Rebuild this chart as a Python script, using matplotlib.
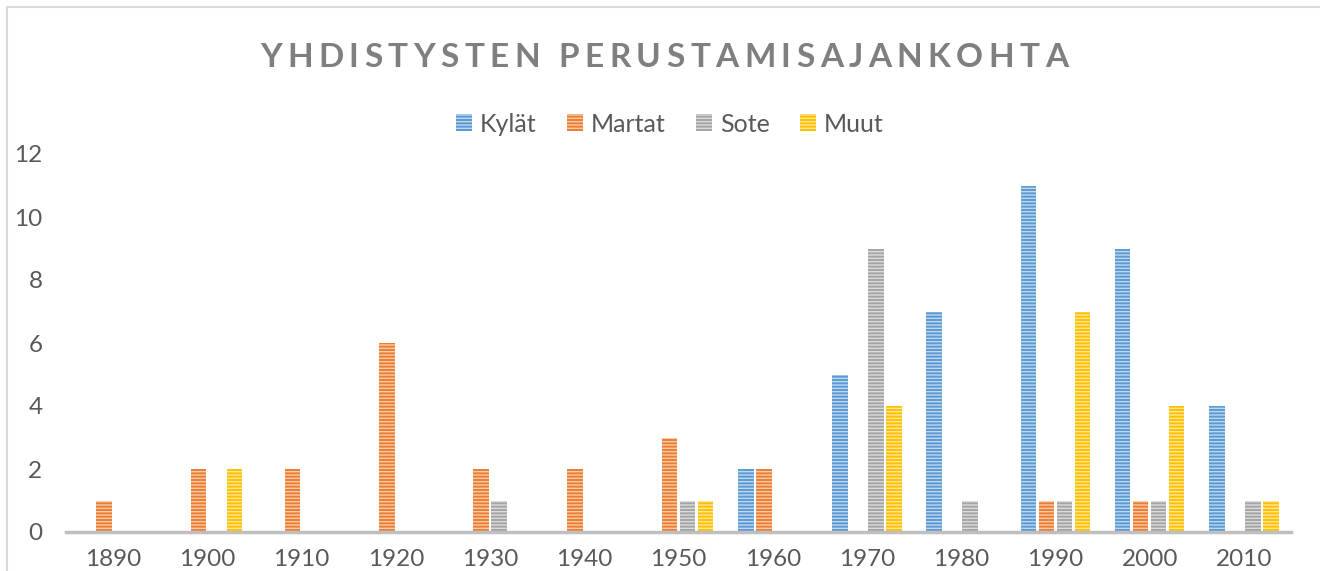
import matplotlib
matplotlib.use("Agg")
import matplotlib.pyplot as plt
from matplotlib.patches import Patch
from matplotlib.lines import Line2D
import numpy as np

decades = ["1890", "1900", "1910", "1920", "1930", "1940", "1950",
           "1960", "1970", "1980", "1990", "2000", "2010"]
kylat = [0, 0, 0, 0, 0, 0, 0, 2, 5, 7, 11, 9, 4]
martat = [1, 2, 2, 6, 2, 2, 3, 2, 0, 0, 1, 1, 0]
sote = [0, 0, 0, 0, 1, 0, 1, 0, 9, 1, 1, 1, 1]
muut = [0, 2, 0, 0, 0, 0, 1, 0, 4, 0, 7, 4, 1]
series_names = ["Kylät", "Martat", "Sote", "Muut"]
colors = ["#5B9BD5", "#ED7D31", "#A5A5A5", "#FFC000"]
title = "YHDISTYSTEN PERUSTAMISAJANKOHTA"

plt.rcParams["font.family"] = ["Lato", "DejaVu Sans"]
plt.rcParams["hatch.linewidth"] = 1.0

W, H = 1320, 571
fig = plt.figure(figsize=(W / 100, H / 100), dpi=100)
ax = fig.add_axes([66 / W, 1 - 532 / H, (1291 - 66) / W, (532 - 154) / H])


def lighten(c, f):
    rgb = np.array(matplotlib.colors.to_rgb(c))
    return tuple(rgb + (1 - rgb) * f)


x = np.arange(len(decades))
step = 0.191
width = 0.165
for k, (vals, col) in enumerate(zip([kylat, martat, sote, muut], colors)):
    ax.bar(x + (k - 1.5) * step, vals, width, color=col,
           edgecolor=lighten(col, 0.6), linewidth=0, hatch="-----")

ax.set_xlim(-0.5, len(decades) - 0.5)
ax.set_ylim(0, 12)
ax.set_yticks(range(0, 13, 2))
ax.set_xticks(x)
ax.set_xticklabels(decades)
ax.tick_params(axis="both", length=0, labelsize=17.5, labelcolor="#595959")
ax.tick_params(axis="x", pad=12)
ax.tick_params(axis="y", pad=17)
for s in ["top", "right", "left"]:
    ax.spines[s].set_visible(False)
ax.spines["bottom"].set_color("#BFBFBF")
ax.spines["bottom"].set_linewidth(2.5)

# legend
handles = [Patch(facecolor=c, edgecolor=lighten(c, 0.6), linewidth=0, hatch="-----")
           for c in colors]
fig.legend(handles, series_names, loc="center", ncol=4, frameon=False,
           bbox_to_anchor=(670 / W, 1 - 124 / H), fontsize=18,
           labelcolor="#595959", handlelength=0.65, handleheight=0.65,
           handletextpad=0.32, columnspacing=1.2)

# letter-spaced title
r = fig.canvas.get_renderer()
kw = dict(fontsize=24, fontweight="bold", color="#7F7F7F")
probe = fig.text(0, 0, "", **kw)
pos = []
for i in range(len(title)):
    probe.set_text(title[:i] + "I")
    wi = probe.get_window_extent(r).width
    probe.set_text("I")
    pos.append(wi - probe.get_window_extent(r).width)
probe.set_text(title)
natural = probe.get_window_extent(r).width
probe.remove()
left, right = 260, 1068
extra = (right - left - natural) / (len(title) - 1)
for i, ch in enumerate(title):
    fig.text((left + pos[i] + i * extra) / W, 1 - 67 / H, ch, ha="left",
             va="baseline", **kw)

# chart border (left and top visible)
fig.add_artist(Line2D([7 / W, 7 / W], [0, 1 - 7 / H], color="#D9D9D9",
                      lw=1.5, transform=fig.transFigure))
fig.add_artist(Line2D([7 / W, 1], [1 - 7 / H, 1 - 7 / H], color="#D9D9D9",
                      lw=1.5, transform=fig.transFigure))

fig.savefig("out.png", dpi=100)
